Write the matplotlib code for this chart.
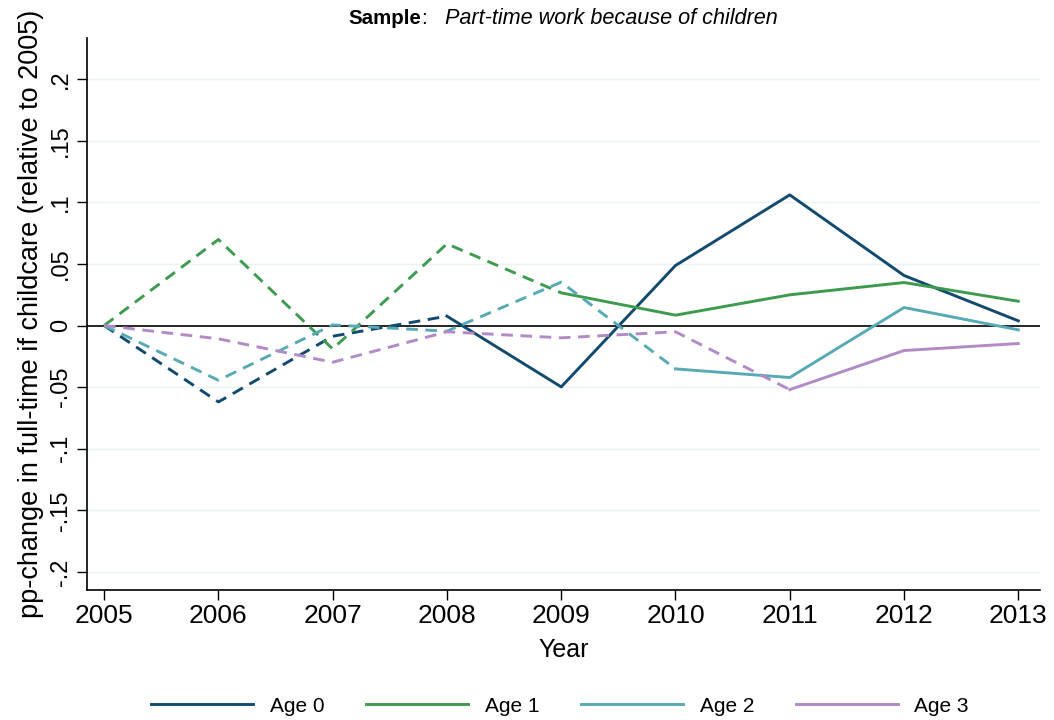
import matplotlib
matplotlib.use("Agg")
import matplotlib.pyplot as plt
import numpy as np

plt.rcParams['font.family'] = ['Liberation Sans', 'DejaVu Sans']

years = [2005, 2006, 2007, 2008, 2009, 2010, 2011, 2012, 2013]
series_names = ["Age 0", "Age 1", "Age 2", "Age 3"]
age0 = [0.0, -0.062, -0.0087, 0.0076, -0.0498, 0.0487, 0.106, 0.0406, 0.0038]
age1 = [0.0, 0.0698, -0.019, 0.0663, 0.0265, 0.0084, 0.0249, 0.0349, 0.0197]
age2 = [0.0, -0.0444, 0.0005, -0.0046, 0.0352, -0.0352, -0.0422, 0.0146, -0.0035]
age3 = [0.0, -0.0108, -0.0298, -0.0051, -0.010, -0.0051, -0.052, -0.0203, -0.0146]
# year at which each series switches from dashed to solid
switch_year = [2008, 2009, 2010, 2011]
colors = ["#114a6e", "#3e9a4f", "#57aab5", "#b28ac6"]

yticks = [-0.2, -0.15, -0.1, -0.05, 0, 0.05, 0.1, 0.15, 0.2]
ytick_labels = ["-.2", "-.15", "-.1", "-.05", "0", ".05", ".1", ".15", ".2"]

W, H = 1054, 720
fig = plt.figure(figsize=(W / 100, H / 100), dpi=100)
ax = fig.add_axes([87 / W, 130 / H, (1040 - 87) / W, (590 - 38) / H])

for yv in yticks:
    if yv != 0:
        ax.axhline(yv, color="#eaf2f3", lw=1.0, zorder=0)
ax.axhline(0, color="black", lw=1.2, zorder=1)

x = np.array(years)
handles = []
for vals, sw, c, name in zip([age0, age1, age2, age3], switch_year, colors, series_names):
    v = np.array(vals)
    k = years.index(sw)
    ax.plot(x[:k + 1], v[:k + 1], color=c, lw=2.1, ls=(0, (4, 2.6)), zorder=3)
    h, = ax.plot(x[k:], v[k:], color=c, lw=2.1, ls="-", zorder=3, label=name)
    handles.append(h)

ax.set_xlim(2004.85, 2013.19)
ax.set_ylim(-0.2146, 0.2333)
ax.set_xticks(years)
ax.set_xticklabels([str(y) for y in years], fontsize=19)
ax.set_yticks(yticks)
ax.set_yticklabels(ytick_labels, fontsize=17, rotation=90, va="center")
ax.tick_params(axis="both", direction="out", length=7, width=1, color="black")
ax.tick_params(axis="x", pad=3)
ax.tick_params(axis="y", pad=4)
for s in ["top", "right"]:
    ax.spines[s].set_visible(False)
for s in ["left", "bottom"]:
    ax.spines[s].set_linewidth(1.2)

ax.set_xlabel("Year", fontsize=18, labelpad=7)
ax.set_ylabel("pp-change in full-time if childcare (relative to 2005)", fontsize=19.5, labelpad=4)

ty = 1 - 18 / H
fig.text(348 / W, ty, "Sample", ha="left", va="center", fontsize=14.8, fontweight="bold")
fig.text(421 / W, ty, ":", ha="left", va="center", fontsize=14.8)
fig.text(445 / W, ty, "Part-time work because of children", ha="left", va="center",
         fontsize=15.6, style="italic")

fig.legend(handles=handles, labels=series_names, loc="center", bbox_to_anchor=(560 / W, 14 / H),
           ncol=4, frameon=False, fontsize=15, handlelength=4.9, columnspacing=2.0,
           handletextpad=0.8)

fig.savefig("out.png", dpi=100)
